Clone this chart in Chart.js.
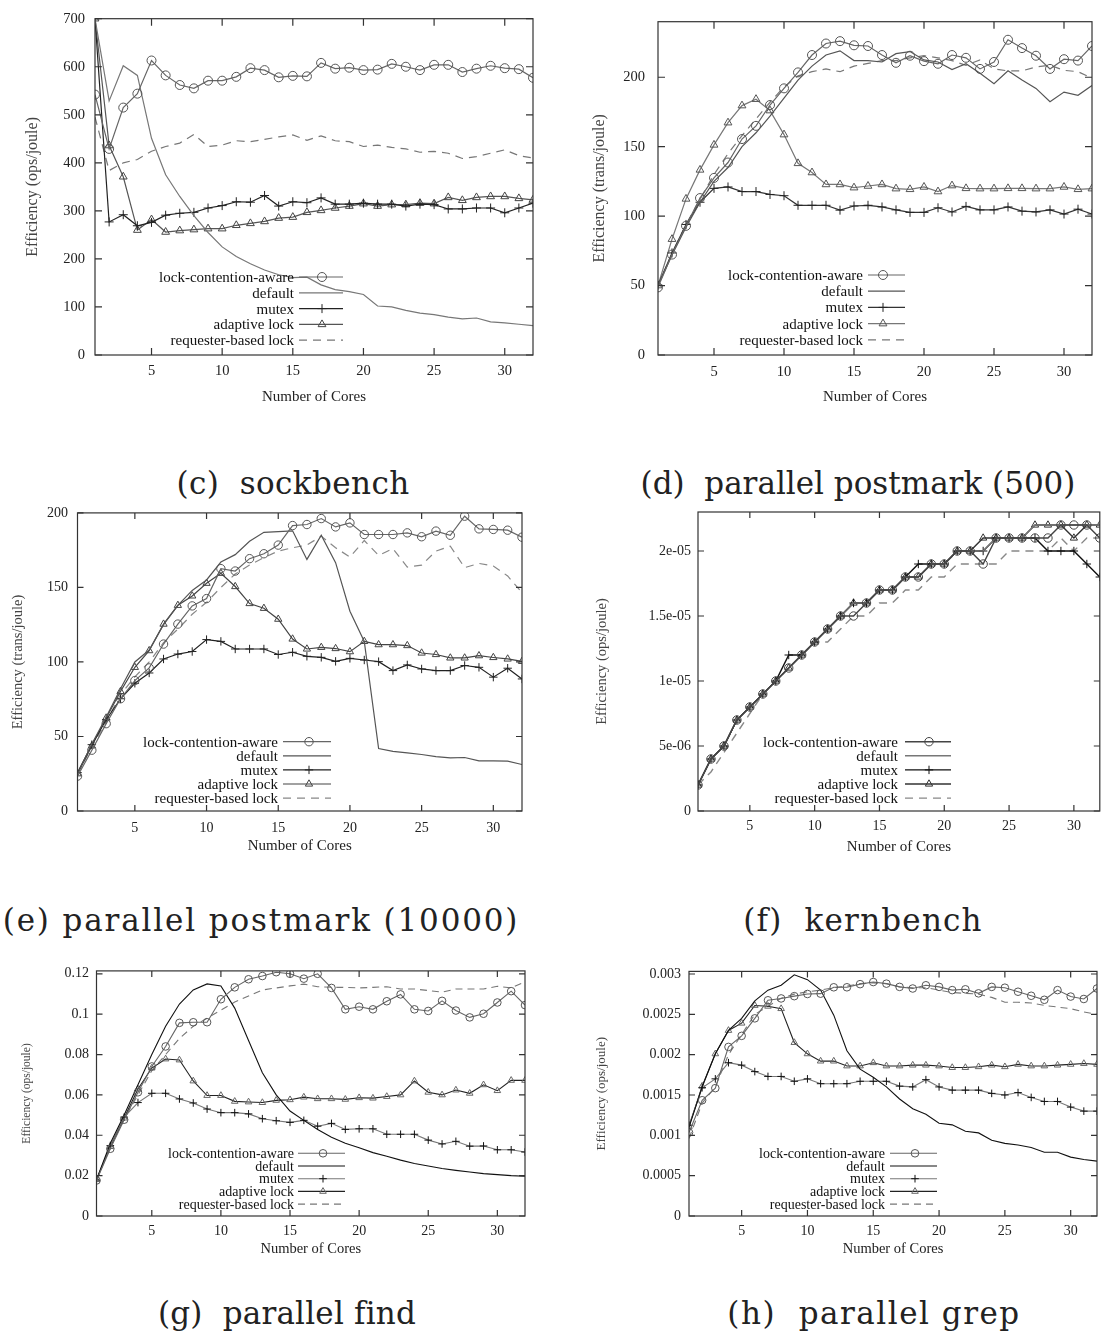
<!DOCTYPE html>
<html><head><meta charset="utf-8">
<script src="https://cdn.jsdelivr.net/npm/chart.js@4.4.0/dist/chart.umd.min.js"></script>
<style>
html,body{margin:0;padding:0;background:#fff;}
body{width:1105px;height:1335px;position:relative;overflow:hidden;}
canvas{position:absolute;}
.cap{position:absolute;font-family:"DejaVu Serif",serif;font-size:31px;color:#222;white-space:pre;transform:translate(-50%,-50%);line-height:1;letter-spacing:0.4px;}
</style></head><body>
<div class="cap" style="left:293px;top:483px">(c)  sockbench</div>
<div class="cap" style="left:858px;top:483px;letter-spacing:0px">(d)  parallel postmark (500)</div>
<div class="cap" style="left:261px;top:920px;letter-spacing:1.85px">(e) parallel postmark (10000)</div>
<div class="cap" style="left:863px;top:920px;letter-spacing:1.2px">(f)  kernbench</div>
<div class="cap" style="left:287px;top:1313px;letter-spacing:0.2px">(g)  parallel find</div>
<div class="cap" style="left:874px;top:1313px;letter-spacing:1.5px">(h)  parallel grep</div>
<script>
// ---------- data ----------
const cores = [1,2,3,4,5,6,7,8,9,10,11,12,13,14,15,16,17,18,19,20,21,22,23,24,25,26,27,28,29,30,31,32];
const xTickValues = [5,10,15,20,25,30];
const seriesNames = ['lock-contention-aware','default','mutex','adaptive lock','requester-based lock'];

// (c) sockbench
const sockLCA      = [542,429,515,544,613,582,562,555,571,571,579,597,593,578,581,580,608,596,598,593,594,606,600,593,604,604,589,596,602,597,595,577];
const sockDefault  = [700,529,602,582,451,375,330,290,255,225,205,190,177,167,161,162,146,136,132,126,102,100,93,87,84,79,75,77,69,67,64,61];
const sockMutex    = [700,277,292,269,276,291,295,297,306,311,319,318,332,310,319,317,327,314,314,316,314,314,310,314,313,304,304,306,306,296,306,316];
const sockAdaptive = [700,436,371,260,282,256,259,261,263,263,270,274,278,285,287,297,301,306,310,315,310,313,313,316,315,328,322,328,330,330,326,323];
const sockReq      = [495,384,400,407,424,434,441,459,434,437,446,444,449,454,458,447,456,446,444,434,437,432,429,422,424,420,409,413,420,427,415,410];
const sockYTicks = [0,100,200,300,400,500,600,700];
const sockYLabels = ['0','100','200','300','400','500','600','700'];

// (d) parallel postmark (500)
const pm500LCA      = [48.7,72.3,93,113,127.5,138.6,155.5,165,180,192,203.5,216,224.3,226,223,222.5,216,210.4,215.5,211.6,209.7,216,214,206,211,227,221,215.5,206,213,212,222.5];
const pm500Default  = [50,72,92,110,125,135,150,160,172,185,198,208,216,219,212,212,211,217,218.5,212.5,211,205.6,209.7,202.8,195.4,204.6,198,192,182.4,189.3,187,194];
const pm500Mutex    = [50.3,73.5,94,110,120,121,117.7,117.7,115.6,114.7,107.8,107.8,107.8,104.3,107.3,107.8,106.6,104.5,102.7,102.7,106,103,107,104.5,104.5,106.6,103.6,103,104.5,101.5,105,101.5];
const pm500Adaptive = [50,83.4,112.4,133.3,151.3,167.3,179.6,184.2,176,158.7,138,131.4,122.8,122.8,120.5,121.7,122.8,119.8,119.3,121,117.7,122,120,119.8,119.8,120,120,119.8,119.8,121,119.3,119.8];
const pm500Req      = [50,73,94,112,130,145,158,170,182,193,201,204,206,204,208,210,212,212,214,215.5,214,212,208.6,212.5,206,204.6,204.6,207.4,208.6,205,204,199.3];
const pm500YTicks = [0,50,100,150,200];
const pm500YLabels = ['0','50','100','150','200'];

// (e) parallel postmark (10000)
const pm10kLCA      = [23.4,40.8,58.6,75.3,87.5,96,112,125.4,137.6,142.5,162.6,161,169.3,172.6,178.4,191.5,192.2,196.2,190.6,193.3,185.5,185.5,185.5,186.6,184,187.8,185,197.8,189.3,188.9,188.4,183.7];
const pm10kDefault  = [25,45,63,82,100,108,125,138,148,155,167,172,181,187,187.5,188,168.8,185,166.6,134,113.8,41.9,40,39,37.9,36.5,35.6,35.9,33.6,33.6,33.4,31.2];
const pm10kMutex    = [25.8,44.5,61.2,75.3,85.7,92.6,102,105.3,107,115,113.8,108.7,108.7,108.7,105,106.5,103.8,103.1,100.4,102.4,101.3,100.2,94.2,98,95.3,94.2,94.2,97.6,96.4,89.8,95.8,88.6];
const pm10kAdaptive = [25,43.7,62.4,80.2,96.4,107.6,125.4,138,144.3,152.8,159.5,150.6,139.2,136,128.7,115.4,108.7,109.8,109,106.9,113.8,111.6,111.6,111,106,105,102.7,102.7,104.2,103,102,100.4];
const pm10kReq      = [25,43,60,78,90,100,113,122,132,140,150,159,165,170,174.4,176.6,178.4,184.4,176.6,170.4,181.5,171.5,176,163.7,165,174.4,177.7,163.3,166.1,164.4,157.7,146.5];
const pm10kYTicks = [0,50,100,150,200];
const pm10kYLabels = ['0','50','100','150','200'];

// (f) kernbench
const kernLCA      = [2e-6,4e-6,5e-6,7e-6,8e-6,9e-6,1.0e-5,1.1e-5,1.2e-5,1.3e-5,1.4e-5,1.5e-5,1.5e-5,1.6e-5,1.7e-5,1.7e-5,1.8e-5,1.8e-5,1.9e-5,1.9e-5,2.0e-5,2.0e-5,1.9e-5,2.1e-5,2.1e-5,2.1e-5,2.1e-5,2.1e-5,2.2e-5,2.2e-5,2.2e-5,2.1e-5];
const kernDefault  = [2e-6,4e-6,5e-6,7e-6,8e-6,9e-6,1.0e-5,1.1e-5,1.2e-5,1.3e-5,1.4e-5,1.5e-5,1.6e-5,1.6e-5,1.7e-5,1.7e-5,1.8e-5,1.8e-5,1.9e-5,1.9e-5,2.0e-5,2.0e-5,2.0e-5,2.1e-5,2.1e-5,2.1e-5,2.2e-5,2.2e-5,2.2e-5,2.2e-5,2.2e-5,2.2e-5];
const kernMutex    = [2e-6,4e-6,5e-6,7e-6,8e-6,9e-6,1.0e-5,1.2e-5,1.2e-5,1.3e-5,1.4e-5,1.5e-5,1.6e-5,1.6e-5,1.7e-5,1.7e-5,1.8e-5,1.9e-5,1.9e-5,1.9e-5,2.0e-5,2.0e-5,2.0e-5,2.1e-5,2.1e-5,2.1e-5,2.1e-5,2.0e-5,2.0e-5,2.0e-5,1.9e-5,1.8e-5];
const kernAdaptive = [2e-6,4e-6,5e-6,7e-6,8e-6,9e-6,1.0e-5,1.1e-5,1.2e-5,1.3e-5,1.4e-5,1.5e-5,1.6e-5,1.6e-5,1.7e-5,1.7e-5,1.8e-5,1.8e-5,1.9e-5,1.9e-5,2.0e-5,2.0e-5,2.1e-5,2.1e-5,2.1e-5,2.1e-5,2.2e-5,2.2e-5,2.2e-5,2.1e-5,2.2e-5,2.2e-5];
const kernReq      = [2e-6,3e-6,4.5e-6,6e-6,7.5e-6,9e-6,1.0e-5,1.1e-5,1.2e-5,1.3e-5,1.3e-5,1.4e-5,1.5e-5,1.5e-5,1.6e-5,1.6e-5,1.7e-5,1.7e-5,1.8e-5,1.8e-5,1.9e-5,1.9e-5,1.9e-5,1.9e-5,2.0e-5,2.0e-5,2.0e-5,2.0e-5,2.1e-5,2.0e-5,2.1e-5,2.1e-5];
const kernYTicks = [0,5e-6,1e-5,1.5e-5,2e-5];
const kernYLabels = ['0','5e-06','1e-05','1.5e-05','2e-05'];

// (g) parallel find
const findLCA      = [0.0176,0.0333,0.0477,0.0613,0.0741,0.084,0.0957,0.096,0.096,0.1074,0.1133,0.1173,0.1189,0.1208,0.12,0.1176,0.12,0.113,0.1024,0.1037,0.1024,0.1064,0.1098,0.1024,0.1016,0.1066,0.1018,0.0984,0.1002,0.1058,0.1114,0.1045];
const findDefault  = [0.018,0.036,0.05,0.065,0.08,0.094,0.105,0.112,0.115,0.114,0.103,0.087,0.071,0.06,0.052,0.0474,0.0429,0.039,0.036,0.0338,0.0314,0.0296,0.0277,0.026,0.0248,0.0235,0.0226,0.0218,0.021,0.0205,0.02,0.0197];
const findMutex    = [0.0178,0.0349,0.049,0.0562,0.0608,0.0608,0.058,0.056,0.053,0.0512,0.0512,0.0506,0.0482,0.0472,0.0464,0.0474,0.0445,0.0459,0.0429,0.0432,0.0432,0.0405,0.0405,0.0405,0.0376,0.0357,0.037,0.0346,0.0347,0.0328,0.0328,0.0317];
const findAdaptive = [0.018,0.0344,0.0485,0.0629,0.0733,0.0778,0.0773,0.0669,0.0597,0.0597,0.0568,0.0565,0.0562,0.0573,0.0576,0.0589,0.0581,0.0581,0.0578,0.0586,0.0584,0.0592,0.06,0.0669,0.0613,0.06,0.0624,0.0608,0.065,0.0621,0.0672,0.0672];
const findReq      = [0.018,0.034,0.048,0.06,0.072,0.08,0.088,0.094,0.098,0.102,0.106,0.109,0.112,0.113,0.114,0.1149,0.1136,0.1133,0.1133,0.113,0.1133,0.1136,0.1125,0.1125,0.1117,0.1109,0.1125,0.1125,0.1125,0.1138,0.113,0.116];
const findYTicks = [0,0.02,0.04,0.06,0.08,0.1,0.12];
const findYLabels = ['0','0.02','0.04','0.06','0.08','0.1','0.12'];

// (h) parallel grep
const grepLCA      = [0.001034,0.001435,0.001585,0.002096,0.002233,0.00245,0.002674,0.002697,0.002725,0.002752,0.002756,0.002835,0.002835,0.002874,0.0029,0.00288,0.00284,0.00282,0.00286,0.00284,0.0028,0.00281,0.00276,0.00284,0.00283,0.00278,0.00273,0.00268,0.0028,0.00272,0.00269,0.00282];
const grepDefault  = [0.0011,0.0016,0.00201,0.0023,0.00245,0.002666,0.0028,0.00286,0.00299,0.00293,0.0028,0.00249,0.002049,0.00182,0.00172,0.0016,0.00145,0.00133,0.00126,0.00115,0.00113,0.00105,0.00103,0.00094,0.0009,0.00088,0.00085,0.00079,0.00079,0.00073,0.0007,0.00068];
const grepMutex    = [0.001125,0.00159,0.0017,0.0019,0.00187,0.00179,0.00173,0.00173,0.00167,0.0017,0.00164,0.00164,0.00164,0.00167,0.00167,0.00167,0.00161,0.0016,0.00169,0.0016,0.00156,0.00156,0.00156,0.00152,0.0015,0.00153,0.00147,0.00142,0.00142,0.00135,0.0013,0.0013];
const grepAdaptive = [0.00111,0.00161,0.00201,0.0023,0.00239,0.00261,0.0026,0.00257,0.00215,0.00201,0.00192,0.00192,0.00186,0.00186,0.0019,0.00186,0.00186,0.00187,0.00187,0.00186,0.00184,0.00184,0.00185,0.00187,0.00185,0.00188,0.00186,0.00186,0.00187,0.00188,0.00189,0.00188];
const grepReq      = [0.00096,0.0014,0.0016,0.002,0.00225,0.0025,0.0026,0.0027,0.00275,0.00278,0.0028,0.00283,0.00285,0.00288,0.00289,0.00288,0.00284,0.00283,0.00283,0.0028,0.00277,0.00276,0.00275,0.00271,0.00265,0.00265,0.00264,0.00261,0.00259,0.00257,0.00253,0.0025];
const grepYTicks = [0,0.0005,0.001,0.0015,0.002,0.0025,0.003];
const grepYLabels = ['0','0.0005','0.001','0.0015','0.002','0.0025','0.003'];

// ---------- drawing ----------
const SERIF = '"Liberation Serif","Times New Roman",serif';
const pointStyles = ['circle', null, 'cross', 'triangle', null];

function drawMarker(ctx, style, x, y, r) {
  ctx.beginPath();
  if (style === 'circle') {
    ctx.arc(x, y, r, 0, Math.PI * 2);
  } else if (style === 'cross') {
    ctx.moveTo(x - r, y); ctx.lineTo(x + r, y);
    ctx.moveTo(x, y - r); ctx.lineTo(x, y + r);
  } else if (style === 'triangle') {
    for (let k = 0; k < 3; k++) {
      const a = k * 2 * Math.PI / 3;
      const px = x + Math.sin(a) * r, py = y - Math.cos(a) * r;
      if (k === 0) ctx.moveTo(px, py); else ctx.lineTo(px, py);
    }
    ctx.closePath();
  }
  ctx.stroke();
}

const gpPlugin = {
  id: 'gp',
  afterDatasetsDraw(chart, args, o) {
    const ctx = chart.ctx;
    ctx.save();
    ctx.font = o.legendSize + 'px ' + SERIF;
    ctx.textAlign = 'right';
    ctx.textBaseline = 'middle';
    chart.data.datasets.forEach((ds, i) => {
      const y = o.legY0 + i * o.legDy - o.cy;
      ctx.fillStyle = '#111';
      ctx.fillText(ds.label, o.legTextRight - o.cx, y + 1);
      ctx.strokeStyle = ds.borderColor;
      ctx.lineWidth = ds.borderWidth;
      ctx.setLineDash(ds.borderDash || []);
      ctx.beginPath();
      ctx.moveTo(o.legX0 - o.cx, y); ctx.lineTo(o.legX1 - o.cx, y);
      ctx.stroke();
      ctx.setLineDash([]);
      const st = pointStyles[i];
      if (st) {
        ctx.strokeStyle = ds.pointBorderColor;
        ctx.lineWidth = 1;
        drawMarker(ctx, st, o.legMark - o.cx, y, ds.pointRadius);
      }
    });
    ctx.restore();
  },
  afterDraw(chart, args, o) {
    const ctx = chart.ctx, a = chart.chartArea, xs = chart.scales.x, ys = chart.scales.y;
    ctx.save();
    ctx.strokeStyle = '#333';
    ctx.lineWidth = 1.2;
    ctx.beginPath();
    xs.ticks.forEach(t => {
      const p = xs.getPixelForValue(t.value);
      ctx.moveTo(p, a.bottom); ctx.lineTo(p, a.bottom - o.tl);
      ctx.moveTo(p, a.top); ctx.lineTo(p, a.top + o.tl);
    });
    ys.ticks.forEach(t => {
      const p = ys.getPixelForValue(t.value);
      ctx.moveTo(a.left, p); ctx.lineTo(a.left + o.tl, p);
      ctx.moveTo(a.right, p); ctx.lineTo(a.right - o.tl, p);
    });
    ctx.stroke();
    ctx.strokeRect(a.left, a.top, a.right - a.left, a.bottom - a.top);
    ctx.restore();
  }
};

function makeChart(spec) {
  const L = spec.canvas, P = spec.plot;
  const cv = document.createElement('canvas');
  cv.width = L.w; cv.height = L.h;
  cv.style.left = L.x + 'px'; cv.style.top = L.y + 'px';
  cv.style.width = L.w + 'px'; cv.style.height = L.h + 'px';
  document.body.appendChild(cv);

  const datasets = spec.series.map((vals, i) => ({
    label: seriesNames[i],
    data: vals.map((v, k) => ({ x: cores[k], y: v })),
    borderColor: spec.colors[i],
    borderWidth: spec.lw,
    borderDash: i === 4 ? spec.dash : [],
    pointStyle: pointStyles[i] || 'circle',
    pointRadius: pointStyles[i] ? spec.pr : 0,
    pointHoverRadius: 0,
    pointBorderColor: spec.markColors[i],
    pointBackgroundColor: 'rgba(0,0,0,0)',
    pointBorderWidth: 1,
    tension: 0,
    fill: false
  }));

  const yTitleLH = spec.yTitleSize * 1.2;
  const xTitleLH = spec.xTitleSize * 1.2;

  new Chart(cv, {
    type: 'line',
    data: { datasets },
    plugins: [gpPlugin],
    options: {
      responsive: false,
      animation: false,
      devicePixelRatio: 1,
      events: [],
      layout: { padding: { left: 0, bottom: 0, top: P.t - L.y, right: (L.x + L.w) - P.r } },
      plugins: {
        legend: { display: false },
        tooltip: { enabled: false },
        gp: {
          cx: L.x, cy: L.y, tl: spec.tickLen,
          legendSize: spec.legendSize,
          legTextRight: spec.legend.textRight, legX0: spec.legend.x0, legX1: spec.legend.x1,
          legMark: spec.legend.mark, legY0: spec.legend.y0, legDy: spec.legend.dy
        }
      },
      scales: {
        x: {
          type: 'linear', min: 1, max: 32,
          afterBuildTicks: s => { s.ticks = xTickValues.map(v => ({ value: v })); },
          afterFit: s => { s.height = (L.y + L.h) - P.b; },
          grid: { display: false, drawTicks: false },
          border: { display: false },
          ticks: {
            font: { family: SERIF, size: spec.tickSize }, color: '#222',
            padding: spec.xLabelY - P.b - spec.tickSize * 0.6, maxRotation: 0, autoSkip: false,
            callback: v => String(v)
          },
          title: {
            display: true, text: 'Number of Cores', color: '#222',
            font: { family: SERIF, size: spec.xTitleSize },
            padding: { top: 0, bottom: (L.y + L.h) - spec.xTitleY - xTitleLH / 2 }
          }
        },
        y: {
          type: 'linear', min: 0, max: spec.ymax,
          afterBuildTicks: s => { s.ticks = spec.yTicks.map(v => ({ value: v })); },
          afterFit: s => { s.width = P.l - L.x; },
          grid: { display: false, drawTicks: false },
          border: { display: false },
          ticks: {
            font: { family: SERIF, size: spec.tickSize }, color: '#222',
            padding: spec.yLabelPad, autoSkip: false,
            callback: (v, i) => spec.yLabels[i]
          },
          title: {
            display: true, text: spec.yTitle, color: '#444',
            font: { family: SERIF, size: spec.yTitleSize },
            padding: { top: spec.yTitleX - L.x - yTitleLH / 2, bottom: 0 }
          }
        }
      }
    }
  });
}

const G1 = '#666', G2 = '#777', G3 = '#555', K = '#222';

makeChart({
  canvas: { x: 10, y: 0, w: 540, h: 410 }, plot: { l: 95, t: 13, r: 533, b: 355 },
  series: [sockLCA, sockDefault, sockMutex, sockAdaptive, sockReq],
  colors: [G1, G2, K, G3, G2], markColors: ['#555', G2, K, '#444', G2],
  ymax: 700, yTicks: sockYTicks, yLabels: sockYLabels, yTitle: 'Efficiency (ops/joule)',
  tickSize: 14.5, xTitleSize: 15, yTitleSize: 16, legendSize: 15,
  xLabelY: 371, xTitleY: 397, yTitleX: 33, yLabelPad: 10, tickLen: 7,
  lw: 1.2, pr: 4.5, dash: [8, 6],
  legend: { textRight: 294, x0: 299, x1: 343, mark: 322, y0: 277, dy: 15.8 }
});
makeChart({
  canvas: { x: 585, y: 0, w: 520, h: 410 }, plot: { l: 658, t: 10, r: 1092, b: 355 },
  series: [pm500LCA, pm500Default, pm500Mutex, pm500Adaptive, pm500Req],
  colors: [G1, G3, '#333', G2, G2], markColors: ['#555', G3, K, '#555', G2],
  ymax: 240, yTicks: pm500YTicks, yLabels: pm500YLabels, yTitle: 'Efficiency (trans/joule)',
  tickSize: 14.5, xTitleSize: 15, yTitleSize: 16, legendSize: 15,
  xLabelY: 372, xTitleY: 397, yTitleX: 600, yLabelPad: 13, tickLen: 7,
  lw: 1.2, pr: 4.5, dash: [8, 6],
  legend: { textRight: 863, x0: 868, x1: 905, mark: 883, y0: 275, dy: 16.2 }
});
makeChart({
  canvas: { x: 0, y: 495, w: 540, h: 370 }, plot: { l: 77.5, t: 512, r: 522, b: 811 },
  series: [pm10kLCA, pm10kDefault, pm10kMutex, pm10kAdaptive, pm10kReq],
  colors: [G1, G3, K, '#444', '#888'], markColors: ['#555', G3, K, '#444', '#888'],
  ymax: 200, yTicks: pm10kYTicks, yLabels: pm10kYLabels, yTitle: 'Efficiency (trans/joule)',
  tickSize: 14, xTitleSize: 15, yTitleSize: 14.5, legendSize: 15,
  xLabelY: 828, xTitleY: 846, yTitleX: 18, yLabelPad: 9.5, tickLen: 6,
  lw: 1.2, pr: 4.2, dash: [8, 6],
  legend: { textRight: 278, x0: 283, x1: 331, mark: 309, y0: 741.7, dy: 14.1 }
});
makeChart({
  canvas: { x: 585, y: 495, w: 520, h: 370 }, plot: { l: 698, t: 512, r: 1104, b: 811 },
  series: [kernLCA, kernDefault, kernMutex, kernAdaptive, kernReq],
  colors: ['#444', G2, '#111', '#333', '#888'], markColors: ['#444', G2, '#111', '#333', '#888'],
  ymax: 2.3e-5, yTicks: kernYTicks, yLabels: kernYLabels, yTitle: 'Efficiency (ops/joule)',
  tickSize: 14, xTitleSize: 15, yTitleSize: 14.5, legendSize: 15,
  xLabelY: 826, xTitleY: 847, yTitleX: 602, yLabelPad: 7, tickLen: 6,
  lw: 1.4, pr: 4.2, dash: [8, 6],
  legend: { textRight: 898, x0: 905, x1: 951, mark: 929, y0: 741.7, dy: 14.1 }
});
makeChart({
  canvas: { x: 10, y: 955, w: 530, h: 300 }, plot: { l: 96.5, t: 963, r: 525, b: 1216 },
  series: [findLCA, findDefault, findMutex, findAdaptive, findReq],
  colors: [G1, '#111', G2, '#222', G2], markColors: ['#555', '#111', '#111', '#666', G2],
  ymax: 0.12144, yTicks: findYTicks, yLabels: findYLabels, yTitle: 'Efficiency (ops/joule)',
  tickSize: 14, xTitleSize: 14.5, yTitleSize: 11.5, legendSize: 14,
  xLabelY: 1231, xTitleY: 1249, yTitleX: 27, yLabelPad: 7.5, tickLen: 6,
  lw: 1.1, pr: 3.8, dash: [7, 5],
  legend: { textRight: 294, x0: 298, x1: 345, mark: 323, y0: 1153.3, dy: 12.7 }
});
makeChart({
  canvas: { x: 585, y: 955, w: 520, h: 300 }, plot: { l: 689, t: 959, r: 1097, b: 1216 },
  series: [grepLCA, grepDefault, grepMutex, grepAdaptive, grepReq],
  colors: [G1, '#111', G2, '#222', G2], markColors: ['#555', '#111', '#111', '#666', G2],
  ymax: 0.003032, yTicks: grepYTicks, yLabels: grepYLabels, yTitle: 'Efficiency (ops/joule)',
  tickSize: 14, xTitleSize: 14.5, yTitleSize: 13, legendSize: 14,
  xLabelY: 1231, xTitleY: 1249, yTitleX: 602, yLabelPad: 8, tickLen: 6,
  lw: 1.1, pr: 3.8, dash: [7, 5],
  legend: { textRight: 885, x0: 890, x1: 937, mark: 915, y0: 1153.3, dy: 12.7 }
});
</script>
</body></html>
